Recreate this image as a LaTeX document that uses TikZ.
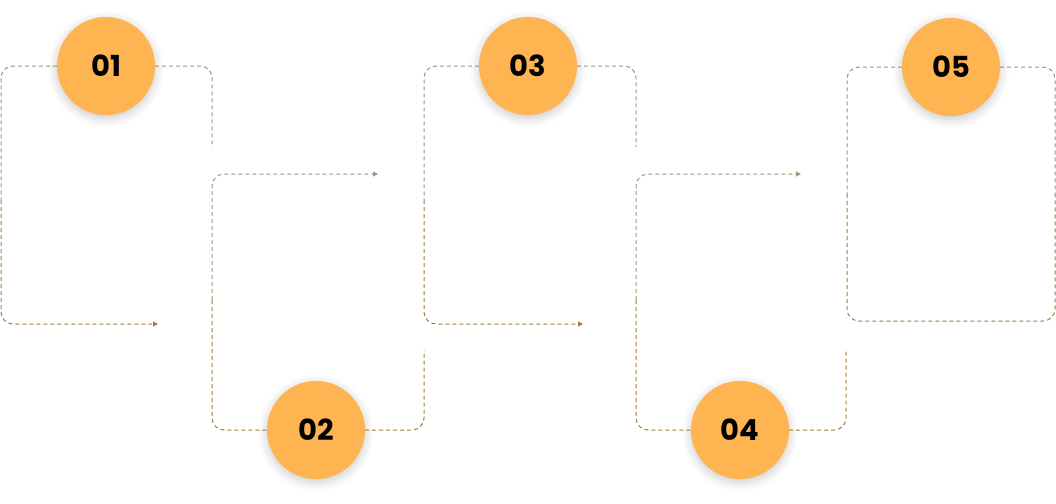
\documentclass[tikz,border=0pt]{standalone}
\usepackage{fontspec}
\setmainfont{Poppins}
\usetikzlibrary{arrows.meta,shapes,positioning,shadows.blur,backgrounds}

\definecolor{stepfill}{RGB}{255,180,82}
\definecolor{linegrey}{RGB}{165,148,122}
\definecolor{linegold}{RGB}{168,124,60}

\tikzset{
  stepcircle/.style={circle,fill=stepfill,minimum size=98pt,inner sep=0pt,
    font=\fontsize{29}{29}\selectfont\bfseries,
    blur shadow={shadow xshift=0pt,shadow yshift=-3pt,shadow blur radius=9pt,shadow opacity=22}},
  flowtop/.style={draw=linegrey,line width=1pt,dash pattern=on 4pt off 3pt,rounded corners=12pt},
  flowlow/.style={draw=linegold,line width=1pt,dash pattern=on 4pt off 3pt,rounded corners=12pt},
  tip/.style={-{Triangle[length=5pt,width=5pt]}}
}

\begin{document}
\begin{tikzpicture}[x=1pt,y=-1pt]
    \useasboundingbox (0,0) rectangle (1056,503);

    % step circles
    \node[stepcircle] (c1) at (106,66) {01};
    \node[stepcircle] (c2) at (316,430) {02};
    \node[stepcircle] (c3) at (528,66) {03};
    \node[stepcircle] (c4) at (740,430) {04};
    \node[stepcircle] (c5) at (951,67) {05};

    % loose ends of the lines
    \coordinate (b1l) at (1,200);
    \coordinate (b1r) at (212,147);
    \coordinate (a1) at (158,324);
    \coordinate (b2l) at (212,300);
    \coordinate (a2) at (378,174);
    \coordinate (b2r) at (424,350);
    \coordinate (b3l) at (424,200);
    \coordinate (b3r) at (636,147);
    \coordinate (a3) at (583,324);
    \coordinate (b4l) at (636,300);
    \coordinate (a4) at (801,174);
    \coordinate (b4r) at (846,350);

    \begin{scope}[on background layer]
    % box 1
    \draw[flowtop] (c1) -| (b1r);
    \draw[flowtop] (c1) -| (b1l);
    \draw[flowlow,tip] (b1l) |- (a1);

    % box 2
    \draw[flowtop,tip] (b2l) |- (a2);
    \draw[flowlow] (b2l) |- (c2);
    \draw[flowlow] (c2) -| (b2r);

    % box 3
    \draw[flowtop] (c3) -| (b3r);
    \draw[flowtop] (c3) -| (b3l);
    \draw[flowlow,tip] (b3l) |- (a3);

    % box 4
    \draw[flowtop,tip] (b4l) |- (a4);
    \draw[flowlow] (b4l) |- (c4);
    \draw[flowlow] (c4) -| (b4r);

    % box 5, closed
    \draw[flowtop] (c5) -| (1055,194);
    \draw[flowtop] (c5) -| (847,194);
    \draw[flowlow] (847,194) |- (1055,321) -- (1055,194);
    \end{scope}
\end{tikzpicture}
\end{document}
